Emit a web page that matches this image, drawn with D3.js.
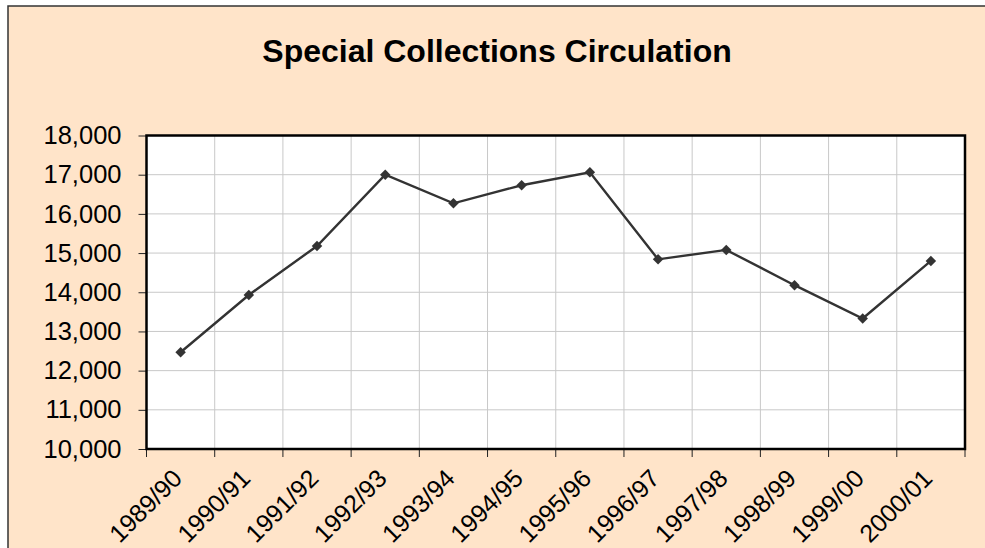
<!DOCTYPE html>
<html>
<head>
<meta charset="utf-8">
<script src="https://cdn.jsdelivr.net/npm/d3@7"></script>
<style>
  body { margin: 0; background: #fff; }
  svg { display: block; font-family: Arial, "Liberation Sans", sans-serif; }
</style>
</head>
<body>
<svg id="chart"></svg>
<script>
// data
const years = ["1989/90", "1990/91", "1991/92", "1992/93", "1993/94", "1994/95",
  "1995/96", "1996/97", "1997/98", "1998/99", "1999/00", "2000/01"];
const circulation = [12470, 13930, 15180, 17000, 16270, 16730,
  17060, 14840, 15080, 14180, 13330, 14800];
const yTicks = [10000, 11000, 12000, 13000, 14000, 15000, 16000, 17000, 18000];

const w = 985, h = 548;
const svg = d3.select("#chart").attr("width", w).attr("height", h);

// chart background + frame (runs off the right/bottom edge)
svg.append("rect")
  .attr("x", 8).attr("y", 6)
  .attr("width", 1000).attr("height", 600)
  .attr("fill", "#ffe4c9")
  .attr("stroke", "#333").attr("stroke-width", 1.5);

svg.append("text")
  .attr("x", 497).attr("y", 62)
  .attr("text-anchor", "middle")
  .attr("font-size", 32).attr("font-weight", "bold")
  .text("Special Collections Circulation");

const pLeft = 146.5, pRight = 965, pTop = 135.5, pBottom = 449;

const x = d3.scaleBand().domain(years).range([pLeft, pRight]).padding(0);
const y = d3.scaleLinear().domain([10000, 18000]).range([pBottom, pTop]);

// plot area
svg.append("rect")
  .attr("x", pLeft).attr("y", pTop)
  .attr("width", pRight - pLeft).attr("height", pBottom - pTop)
  .attr("fill", "#fff");

// gridlines
svg.append("g")
  .selectAll("line")
  .data(yTicks.slice(1, -1))
  .join("line")
    .attr("x1", pLeft).attr("x2", pRight)
    .attr("y1", d => y(d)).attr("y2", d => y(d))
    .attr("stroke", "#c8c8c8").attr("stroke-width", 1);

svg.append("g")
  .selectAll("line")
  .data(years.slice(1))
  .join("line")
    .attr("x1", d => x(d)).attr("x2", d => x(d))
    .attr("y1", pTop).attr("y2", pBottom)
    .attr("stroke", "#c8c8c8").attr("stroke-width", 1);

// y axis
const yAxis = d3.axisLeft(y)
  .tickValues(yTicks)
  .tickFormat(d3.format(","))
  .tickSize(8)
  .tickPadding(17);
const gy = svg.append("g")
  .attr("transform", `translate(${pLeft},0)`)
  .call(yAxis);
gy.select(".domain").remove();
gy.selectAll(".tick line").attr("stroke", "#222");
gy.selectAll(".tick text")
  .attr("font-size", 25.5).attr("fill", "#000")
  .attr("font-family", "Arial, 'Liberation Sans', sans-serif");

// x axis: ticks on category boundaries
const xb = svg.append("g");
xb.selectAll("line")
  .data(years.map(d => x(d)).concat([pRight]))
  .join("line")
    .attr("x1", d => d).attr("x2", d => d)
    .attr("y1", pBottom).attr("y2", pBottom + 8)
    .attr("stroke", "#222");

xb.selectAll("text")
  .data(years)
  .join("text")
    .attr("transform", d => `translate(${x(d) + x.bandwidth() / 2 + 3},${pBottom + 31}) rotate(-45)`)
    .attr("text-anchor", "end")
    .attr("font-size", 25)
    .text(d => d);

// plot frame
svg.append("rect")
  .attr("x", pLeft).attr("y", pTop)
  .attr("width", pRight - pLeft).attr("height", pBottom - pTop)
  .attr("fill", "none")
  .attr("stroke", "#000").attr("stroke-width", 2.5);

// series
const line = d3.line()
  .x((d, i) => x(years[i]) + x.bandwidth() / 2)
  .y(d => y(d));

svg.append("path")
  .datum(circulation)
  .attr("d", line)
  .attr("fill", "none")
  .attr("stroke", "#333").attr("stroke-width", 2.4);

svg.append("g")
  .selectAll("path")
  .data(circulation)
  .join("path")
    .attr("transform", (d, i) => `translate(${x(years[i]) + x.bandwidth() / 2},${y(d)})`)
    .attr("d", d3.symbol(d3.symbolDiamond2, 70))
    .attr("fill", "#333");
</script>
</body>
</html>
